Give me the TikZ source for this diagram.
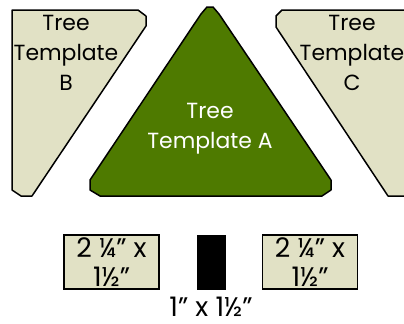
\documentclass[tikz,border=0pt]{standalone}
\usepackage{fontspec}
\setmainfont{Poppins}
\definecolor{tmplbeige}{HTML}{E1E1C5}
\definecolor{tmplgreen}{HTML}{4E7A00}

\tikzset{
  template/.style={draw=black, line width=1.5bp, line join=round, fill=tmplbeige},
  tmpltext/.style={align=center, inner sep=0pt, font=\fontsize{22}{30}\selectfont},
  sizebox/.style={draw=black, line width=1.5bp, fill=tmplbeige, inner sep=0pt,
    minimum width=95bp, minimum height=54bp, align=center, font=\fontsize{27}{29}\selectfont},
}

\begin{document}
\begin{tikzpicture}[x=1bp, y=-1bp]
    \useasboundingbox (0,0) rectangle (404,324);
    \clip (0,0) rectangle (404,324);

    % Tree templates B, A and C
    \draw[template] (12,10) -- (138,10) -- (146,16) -- (146,26) -- (32,196) -- (21,196) -- (12,190) -- cycle;
    \node[tmpltext, anchor=north] (tmplB) at (66,15) {Tree\\Template\\B};
    \draw[template, fill=tmplgreen] (201,14) -- (207,7) -- (213,7) -- (219,14) -- (331,180) -- (331,190)
        -- (322,196) -- (100,196) -- (90,190) -- (90,180) -- cycle;
    \node[tmpltext, anchor=north, text=white] (tmplA) at (210,103) {Tree\\Template A};
    \draw[template] (282,10) -- (420,10) -- (420,196) -- (388,196) -- (276,27) -- (276,16) -- cycle;
    \node[tmpltext, anchor=north] (tmplC) at (352,15) {Tree\\Template\\C};

    % Trunk pieces
    \node[sizebox] (sizeL) at (111.5,262) {2 ¼" x\\1½"};
    \node[draw=black, fill=black, inner sep=0pt, minimum width=28bp, minimum height=54bp] (trunk) at (211,262) {};
    \node[sizebox] (sizeR) at (310,262) {2 ¼" x\\1½"};
    \node[inner sep=0pt, anchor=base, font=\fontsize{27}{29}\selectfont] (trunklbl) at (211,316) {1" x 1½"};
\end{tikzpicture}
\end{document}
